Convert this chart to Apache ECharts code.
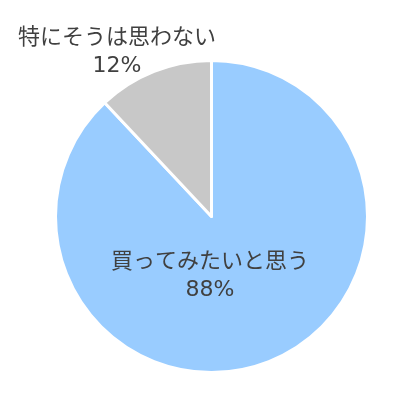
<!DOCTYPE html>
<html><head><meta charset="utf-8">
<script src="https://cdn.jsdelivr.net/npm/echarts@6/dist/echarts.min.js"></script>
<style>html,body{margin:0;padding:0;background:#fff}#c{width:400px;height:400px}</style>
</head><body><div id="c"></div>
<script>
const categories = ['買ってみたいと思う', '特にそうは思わない'];
const values = [88, 12];
const colors = ['#99CCFF', '#C8C8C8'];
const labelPos = [[210, 276], [117, 52]];
const chart = echarts.init(document.getElementById('c'));
chart.setOption({
  animation: false,
  series: [{
    type: 'pie',
    center: [211.5, 216.5],
    radius: [0, 156],
    startAngle: 90,
    clockwise: true,
    data: categories.map((n, i) => ({ name: n, value: values[i], itemStyle: { color: colors[i] } })),
    itemStyle: { borderColor: '#fff', borderWidth: 3 },
    label: {
      position: 'inside',
      formatter: p => p.name + '\n' + p.value + '%',
      color: '#404040',
      fontSize: 22,
      lineHeight: 28,
      fontFamily: "'DejaVu Sans', 'Noto Sans CJK JP'",
      align: 'center'
    },
    labelLine: { show: false },
    labelLayout: p => ({ x: labelPos[p.dataIndex][0], y: labelPos[p.dataIndex][1], align: 'center', verticalAlign: 'middle' })
  }]
});
</script></body></html>
